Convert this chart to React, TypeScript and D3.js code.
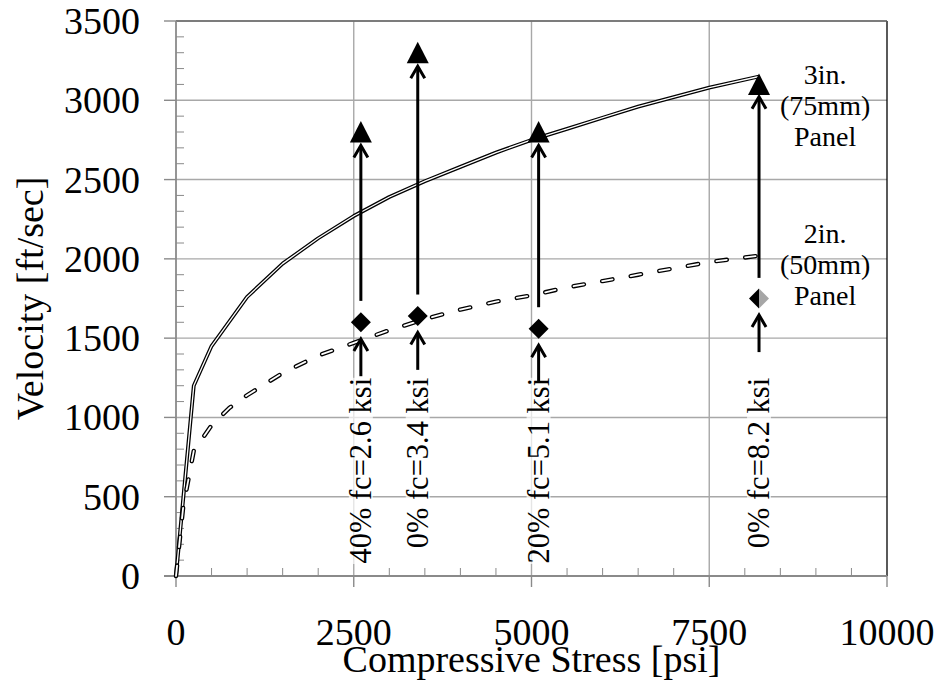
import React from "react";
import * as d3 from "d3";

// 3in. (75mm) panel curve
const stress3 = [0, 250, 500, 1000, 1500, 2000, 2500, 3000, 3500, 4000, 4500, 5000, 5500, 6000, 6500, 7000, 7500, 8200];
const vel3 = [0, 1200, 1450, 1760, 1970, 2130, 2270, 2390, 2490, 2580, 2670, 2750, 2820, 2890, 2960, 3020, 3080, 3150];

// 2in. (50mm) panel curve
const stress2 = [0, 100, 175, 250, 500, 750, 1000, 1500, 2000, 2500, 3000, 3500, 4000, 4500, 5000, 5500, 6000, 6500, 7000, 7500, 8200];
const vel2 = [0, 430, 610, 790, 950, 1060, 1140, 1280, 1390, 1470, 1550, 1620, 1680, 1730, 1770, 1820, 1860, 1900, 1940, 1980, 2020];

// test points
const testStress = [2600, 3400, 5100, 8200];
const vel3in = [2800, 3300, 2800, 3100];
const vel2in = [1600, 1640, 1560, 1750];
const testLabels = ["40% fc=2.6 ksi", "0% fc=3.4 ksi", "20% fc=5.1 ksi", "0% fc=8.2 ksi"];

// arrows (velocity units)
const longFrom = [1735, 1775, 1695, 1880];
const longTo = [2715, 3215, 2715, 3022];
const shortFrom = [1260, 1300, 1220, 1412];
const shortTo = [1495, 1535, 1455, 1646];

const xTicks = [0, 2500, 5000, 7500, 10000];
const yTicks = [0, 500, 1000, 1500, 2000, 2500, 3000, 3500];

const FONT_STYLE = { fontFamily: "Liberation Serif" };

export default function App() {
  const W = 942;
  const H = 684;
  const left = 176, right = 887, top = 21, bottom = 576;

  const x = d3.scaleLinear().domain([0, 10000]).range([left, right]);
  const y = d3.scaleLinear().domain([0, 3500]).range([bottom, top]);

  const line = d3
    .line<[number, number]>()
    .x((d) => x(d[0]))
    .y((d) => y(d[1]));

  const path3 = line(stress3.map((s, i) => [s, vel3[i]]));
  const path2 = line(stress2.map((s, i) => [s, vel2[i]]));

  const xMinor = d3.range(500, 10000, 500).filter((v) => v % 2500 !== 0);
  const yMinor = d3.range(100, 3500, 100).filter((v) => v % 500 !== 0);

  const axisColor = "#8a8a8a";
  const gridColor = "#a8a8a8";

  function arrow(xv: number, from: number, to: number, key: string) {
    const px = x(xv);
    const y0 = y(from);
    const y1 = y(to);
    return (
      <g key={key} stroke="#000" strokeWidth={3} fill="none">
        <line x1={px} x2={px} y1={y0} y2={y1 + 1} />
        <polyline points={`${px - 7},${y1 + 12} ${px},${y1} ${px + 7},${y1 + 12}`} strokeLinejoin="miter" />
      </g>
    );
  }

  return (
    <svg width={W} height={H} style={{ position: "absolute", left: 0, top: 0, background: "#fff", fontFamily: "Liberation Serif" }}>
      <rect width={W} height={H} fill="#fff" />
      {/* gridlines */}
      {yTicks.filter((t) => t > 0).map((t) => (
        <line key={"gy" + t} x1={left} x2={right} y1={y(t)} y2={y(t)} stroke={gridColor} strokeWidth={1.4} />
      ))}
      {xTicks.filter((t) => t > 0 && t < 10000).map((t) => (
        <line key={"gx" + t} x1={x(t)} x2={x(t)} y1={top} y2={bottom} stroke={gridColor} strokeWidth={1.4} />
      ))}
      <line x1={right} x2={right} y1={top} y2={bottom} stroke="#000" strokeWidth={1.3} />
      <line x1={left} x2={right} y1={top} y2={top} stroke="#666" strokeWidth={1.4} />

      {/* label backgrounds */}
      {testStress.map((s, i) => {
        const tw = testLabels[i].length * 13.3;
        return (
          <rect key={"lb" + i} x={x(s) - 12} y={y(1250)} width={24} height={tw} fill="#fff" opacity={0.7} />
        );
      })}

      {/* axes */}
      <line x1={left} x2={left} y1={top} y2={bottom} stroke={axisColor} strokeWidth={1.8} />
      <line x1={left - 12} x2={right} y1={bottom} y2={bottom} stroke={axisColor} strokeWidth={1.8} />
      {yTicks.map((t) => (
        <line key={"ty" + t} x1={left - 12} x2={left} y1={y(t)} y2={y(t)} stroke={axisColor} strokeWidth={1.4} />
      ))}
      {yMinor.map((t) => (
        <line key={"my" + t} x1={left} x2={left + 8} y1={y(t)} y2={y(t)} stroke={axisColor} strokeWidth={1} />
      ))}
      {xTicks.map((t) => (
        <line key={"tx" + t} x1={x(t)} x2={x(t)} y1={bottom} y2={bottom + 11} stroke={axisColor} strokeWidth={1.4} />
      ))}
      {xMinor.map((t) => (
        <line key={"mx" + t} x1={x(t)} x2={x(t)} y1={bottom - 8} y2={bottom} stroke={axisColor} strokeWidth={1} />
      ))}

      {/* tick labels */}
      {yTicks.map((t) => (
        <text key={"ly" + t} x={140} y={y(t) + 13} textAnchor="end" style={FONT_STYLE} fontSize={38} fill="#000">
          {t}
        </text>
      ))}
      {xTicks.map((t) => (
        <text key={"lx" + t} x={x(t)} y={bottom + 69} textAnchor="middle" style={FONT_STYLE} fontSize={38} fill="#000">
          {t}
        </text>
      ))}

      {/* axis titles */}
      <text x={(left + right) / 2} y={672} textAnchor="middle" style={FONT_STYLE} fontSize={38} fill="#000">
        Compressive Stress [psi]
      </text>
      <text
        transform={`translate(43,${(top + bottom) / 2}) rotate(-90)`}
        textAnchor="middle"
        style={FONT_STYLE}
        fontSize={38}
        fill="#000"
      >
        Velocity [ft/sec]
      </text>

      {/* curves: double solid line */}
      <path d={path3 || ""} fill="none" stroke="#000" strokeWidth={3.8} strokeLinejoin="round" />
      <path d={path3 || ""} fill="none" stroke="#fff" strokeWidth={1.3} strokeLinejoin="round" />
      {/* outlined dashes */}
      <path d={path2 || ""} fill="none" stroke="#000" strokeWidth={4.4} strokeDasharray="10.5,18.5" strokeLinecap="round" />
      <path d={path2 || ""} fill="none" stroke="#fff" strokeWidth={1.8} strokeDasharray="10.5,18.5" strokeLinecap="round" />

      {/* arrows */}
      {testStress.map((s, i) => arrow(s, longFrom[i], longTo[i], "la" + i))}
      {testStress.map((s, i) => arrow(s, shortFrom[i], shortTo[i], "sa" + i))}

      {/* triangles */}
      {testStress.map((s, i) => {
        const cx = x(s);
        const cy = y(vel3in[i]);
        return (
          <path key={"tr" + i} d={`M${cx},${cy - 11}L${cx + 11},${cy + 10.5}L${cx - 11},${cy + 10.5}Z`} fill="#000" />
        );
      })}
      {/* diamonds */}
      {testStress.map((s, i) => {
        const cx = x(s);
        const cy = y(vel2in[i]);
        const r = 10;
        if (i === testStress.length - 1) {
          return (
            <g key={"dm" + i}>
              <path d={`M${cx},${cy - r}L${cx},${cy + r}L${cx - r},${cy}Z`} fill="#000" />
              <path d={`M${cx},${cy - r}L${cx + r},${cy}L${cx},${cy + r}Z`} fill="#a6a6a6" />
            </g>
          );
        }
        return <path key={"dm" + i} d={`M${cx},${cy - r}L${cx + r},${cy}L${cx},${cy + r}L${cx - r},${cy}Z`} fill="#000" />;
      })}

      {/* rotated test labels */}
      {testStress.map((s, i) => (
        <text
          key={"tl" + i}
          transform={`translate(${x(s) + 10},${y(1250)}) rotate(-90)`}
          textAnchor="end"
          style={FONT_STYLE}
          fontSize={30.5}
          fill="#000"
        >
          {testLabels[i]}
        </text>
      ))}

      {/* panel labels */}
      {["3in.", "(75mm)", "Panel"].map((t, i) => (
        <text key={"p3" + i} x={x(9130)} y={y(3100) + i * 31} textAnchor="middle" style={FONT_STYLE} fontSize={28} fill="#000">
          {t}
        </text>
      ))}
      {["2in.", "(50mm)", "Panel"].map((t, i) => (
        <text key={"p2" + i} x={x(9130)} y={y(2100) + i * 31} textAnchor="middle" style={FONT_STYLE} fontSize={28} fill="#000">
          {t}
        </text>
      ))}
    </svg>
  );
}
